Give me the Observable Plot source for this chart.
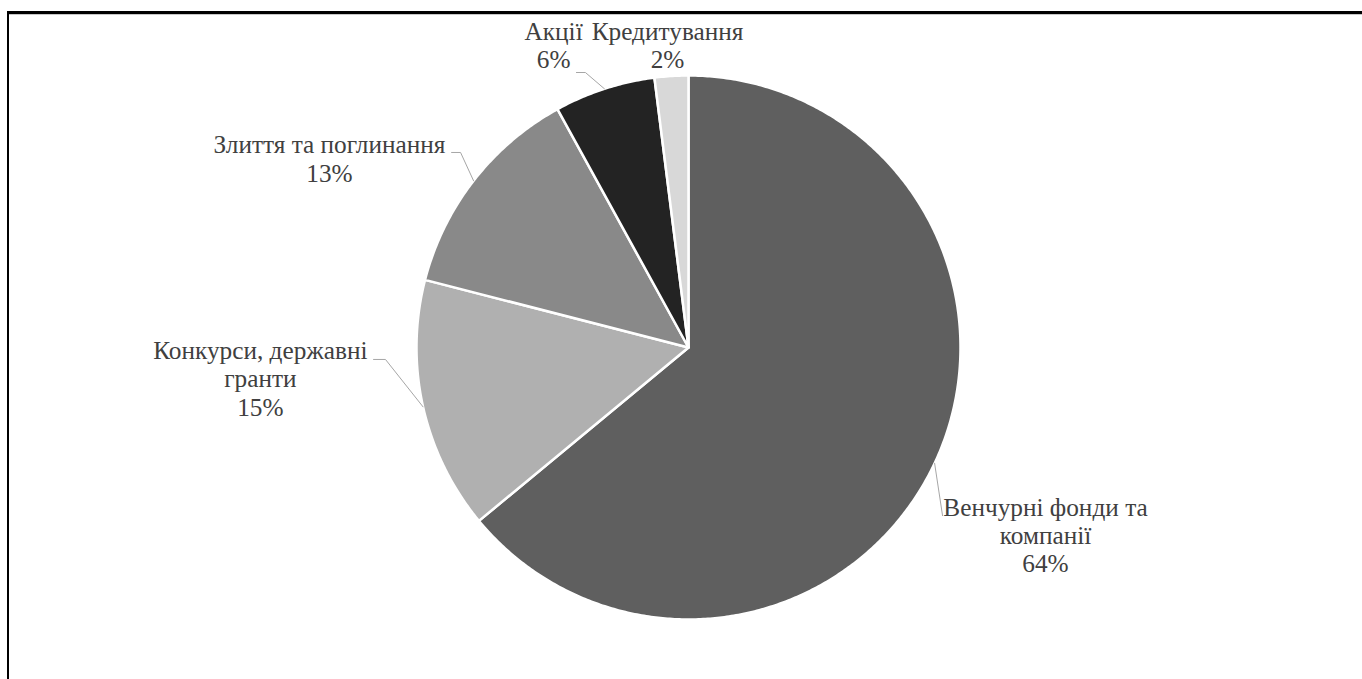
<!DOCTYPE html>
<html>
<head>
<meta charset="utf-8">
<script src="https://cdn.jsdelivr.net/npm/d3@7"></script>
<script src="https://cdn.jsdelivr.net/npm/@observablehq/plot@0.6"></script>
<style>
  html, body { margin: 0; padding: 0; background: #fff; overflow: hidden; }
  #wrap { position: relative; width: 1362px; height: 679px; }
  #frame { position: absolute; left: 7px; top: 11px; width: 1400px; height: 700px;
           border-top: 3px solid #000; border-left: 2px solid #000; box-sizing: border-box; }
  #frame::after { content: ""; position: absolute; left: 0; top: 0; right: 0; height: 1px; background: #c8c8c8; }
  #chart { position: absolute; left: 0; top: 0; }
</style>
</head>
<body>
<div id="wrap">
  <div id="chart"></div>
  <div id="frame"></div>
</div>
<script>
// Sources of startup financing, share of total (%)
const categories = [
  "Венчурні фонди та\nкомпанії",
  "Конкурси, державні\nгранти",
  "Злиття та поглинання",
  "Акції",
  "Кредитування"
];
const shares = [64, 15, 13, 6, 2];
const colors = ["#5f5f5f", "#b0b0b0", "#898989", "#232323", "#d8d8d8"];

// Label placement, in radius units relative to the pie centre:
// text = bottom-centre of the label block, leader = bend and tip of the leader line
const labelLayout = [
  {text: [1.3125, 0.827], leader: [[0.934, 0.618]]},
  {text: [-1.574, 0.25], leader: [[-1.114, 0.044], [-1.158, 0.044]]},
  {text: [-1.32, -0.61], leader: [[-0.838, -0.717], [-0.871, -0.717]]},
  {text: [-0.496, -1.026], leader: [[-0.379, -1.011], [-0.412, -1.011]]},
  {text: [-0.077, -1.026], leader: null}
];

const W = 1362, H = 679;
const CX = 688, CY = 347, R = 272;
const FONT = "Liberation Serif";

const data = categories.map((name, i) => ({name, value: shares[i], color: colors[i]}));
const arcs = d3.pie().sort(null).value(d => d.value).startAngle(0).endAngle(2 * Math.PI)(data);

// Each slice as a closed polygon: centre + points along its arc
const slicePts = [];
arcs.forEach(a => {
  slicePts.push({name: a.data.name, x: 0, y: 0});
  const n = Math.max(2, Math.ceil((a.endAngle - a.startAngle) / (Math.PI / 360)));
  for (let k = 0; k <= n; ++k) {
    const t = a.startAngle + (a.endAngle - a.startAngle) * k / n;
    slicePts.push({name: a.data.name, x: Math.sin(t), y: -Math.cos(t)});
  }
});

// Leader lines start on the rim at each slice's mid angle
const leaderPts = [];
arcs.forEach((a, i) => {
  const L = labelLayout[i];
  if (!L.leader) return;
  const m = (a.startAngle + a.endAngle) / 2;
  leaderPts.push({id: i, x: Math.sin(m), y: -Math.cos(m)});
  L.leader.forEach(([x, y]) => leaderPts.push({id: i, x, y}));
});

const labels = arcs.map((a, i) => ({
  x: labelLayout[i].text[0],
  y: labelLayout[i].text[1],
  text: a.data.name + "\n" + a.data.value + "%"
}));

const chart = Plot.plot({
  width: W,
  height: H,
  margin: 0,
  style: {background: "transparent", overflow: "visible"},
  x: {domain: [-CX / R, (W - CX) / R], range: [0, W], axis: null},
  y: {domain: [-CY / R, (H - CY) / R], range: [0, H], axis: null},
  color: {domain: categories, range: colors},
  marks: [
    Plot.line(slicePts, {
      x: "x", y: "y", z: "name", fill: "name",
      stroke: "#fff", strokeWidth: 2.5, strokeLinejoin: "round",
      curve: "linear-closed"
    }),
    Plot.line(leaderPts, {x: "x", y: "y", z: "id", stroke: "#a6a6a6", strokeWidth: 1}),
    Plot.text(labels, {
      x: "x", y: "y", text: "text",
      textAnchor: "middle", lineAnchor: "bottom", lineHeight: 1.125,
      fontSize: 25.3, fontFamily: FONT,
      fill: "#404040"
    })
  ]
});

chart.setAttribute("font-family", FONT);

document.getElementById("chart").appendChild(chart);
</script>
</body>
</html>
